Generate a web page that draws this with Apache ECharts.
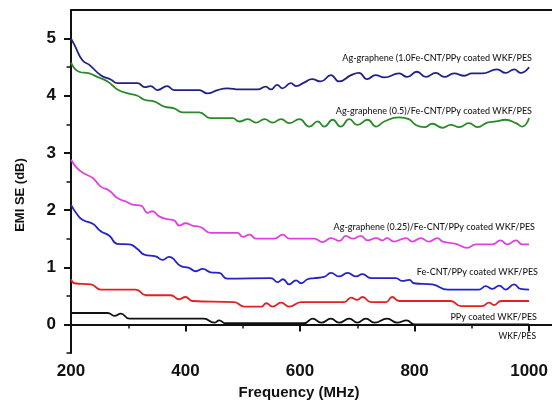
<!DOCTYPE html>
<html>
<head>
<meta charset="utf-8">
<script src="https://cdn.jsdelivr.net/npm/echarts@6/dist/echarts.min.js"></script>
<style>
html,body{margin:0;padding:0;background:#fff;}
#chart{width:552px;height:410px;}
</style>
</head>
<body>
<div id="chart"></div>
<script>
// ---- data (frequency in MHz, EMI SE in dB) ----
const xTickLabels = [200, 400, 600, 800, 1000];
const xMinorTicks = [300, 500, 700, 900];
const yTickLabels = [0, 1, 2, 3, 4, 5];
const yMinorTicks = [-0.5, 0.5, 1.5, 2.5, 3.5, 4.5];

const seriesNames = [
  'Ag-graphene (1.0Fe-CNT/PPy coated WKF/PES',
  'Ag-graphene (0.5)/Fe-CNT/PPy coated WKF/PES',
  'Ag-graphene (0.25)/Fe-CNT/PPy coated WKF/PES',
  'Fe-CNT/PPy coated WKF/PES',
  'PPy coated WKF/PES',
  'WKF/PES'
];

const ag10Freq = [200,206,220,232,252,270,281,316,329,339,351,368,380,424,438,456,473,494,526,540,549,560,569,584,593,607,621,636,654,668,689,703,717,732,747,773,787,804,820,837,852,869,887,900,918,944,959,974,985,1000];
const ag10SE   = [5.00,4.89,4.62,4.54,4.36,4.28,4.22,4.22,4.15,4.17,4.10,4.17,4.10,4.10,4.04,4.10,4.13,4.11,4.11,4.16,4.11,4.19,4.13,4.22,4.17,4.23,4.29,4.25,4.36,4.25,4.36,4.40,4.29,4.36,4.32,4.39,4.33,4.42,4.33,4.40,4.33,4.39,4.35,4.39,4.39,4.46,4.40,4.46,4.40,4.50];

const ag05Freq = [200,214,232,246,264,281,299,316,328,345,363,380,395,424,443,482,494,509,523,538,552,567,581,599,616,631,642,657,671,686,700,718,733,747,773,790,802,817,831,849,863,878,895,910,927,942,959,977,988,1000];
const ag05SE   = [4.58,4.42,4.39,4.33,4.25,4.11,4.04,4.00,3.93,3.90,3.81,3.78,3.71,3.71,3.61,3.61,3.55,3.59,3.53,3.59,3.53,3.59,3.52,3.59,3.46,3.55,3.46,3.58,3.46,3.59,3.49,3.58,3.46,3.55,3.62,3.59,3.49,3.45,3.51,3.44,3.49,3.45,3.52,3.45,3.53,3.55,3.58,3.52,3.46,3.61];

const ag025Freq = [200,211,223,238,252,267,281,296,310,322,334,342,354,368,380,389,400,412,427,444,491,500,512,523,555,570,581,625,639,654,669,680,692,706,718,733,744,752,764,785,796,811,825,840,849,872,892,907,936,950,962,977,988,1000];
const ag025SE   = [2.88,2.73,2.64,2.56,2.41,2.34,2.21,2.15,2.09,2.08,1.95,1.98,1.89,1.84,1.82,1.73,1.77,1.73,1.70,1.60,1.60,1.53,1.57,1.50,1.50,1.57,1.50,1.50,1.44,1.51,1.46,1.55,1.50,1.55,1.47,1.51,1.47,1.51,1.45,1.51,1.45,1.51,1.45,1.51,1.45,1.41,1.34,1.40,1.40,1.47,1.40,1.47,1.40,1.40];

const feFreq = [200,209,220,238,252,267,281,302,316,328,348,360,371,392,406,418,430,444,459,473,549,561,570,581,593,602,613,625,642,654,668,683,698,709,724,767,779,791,799,831,858,913,924,936,948,959,974,985,1000];
const feSE   = [2.09,1.95,1.83,1.76,1.63,1.55,1.41,1.40,1.32,1.22,1.19,1.13,1.18,1.02,0.99,0.93,0.97,0.91,0.90,0.80,0.81,0.74,0.79,0.70,0.77,0.72,0.79,0.81,0.83,0.90,0.84,0.90,0.84,0.88,0.81,0.81,0.76,0.78,0.72,0.70,0.61,0.61,0.67,0.62,0.68,0.61,0.70,0.62,0.61];

const ppyFreq = [200,206,235,252,313,331,374,389,400,412,485,503,532,541,552,567,581,602,677,689,700,709,724,750,761,773,863,881,918,930,939,951,1000];
const ppySE   = [0.79,0.72,0.70,0.61,0.61,0.51,0.51,0.44,0.48,0.41,0.39,0.31,0.31,0.37,0.31,0.38,0.31,0.39,0.39,0.47,0.43,0.48,0.39,0.39,0.48,0.41,0.41,0.32,0.32,0.38,0.34,0.41,0.41];

const wkfFreq = [200,264,276,287,302,432,450,459,470,607,622,637,654,668,686,700,715,730,752,770,786,800,1000];
const wkfSE   = [0.20,0.20,0.15,0.19,0.10,0.10,0.03,0.07,0.02,0.02,0.10,0.03,0.10,0.03,0.10,0.03,0.10,0.03,0.10,0.03,0.07,0.00,0.00];

const seriesFreq = [ag10Freq, ag05Freq, ag025Freq, feFreq, ppyFreq, wkfFreq];
const seriesSE = [ag10SE, ag05SE, ag025SE, feSE, ppySE, wkfSE];
const seriesColors = ['#222284', '#2a8a2a', '#e040e0', '#2323c8', '#e02222', '#111111'];

// annotation label placement (right edge x, centre y) in px
const labelPos = [[532, 58], [532, 111], [535, 227], [538, 272], [537, 317], [536, 336]];

const chart = echarts.init(document.getElementById('chart'), null, {renderer: 'canvas'});

const axisColor = '#111';
const series = seriesNames.map((name, i) => ({
  name: name,
  type: 'line',
  xAxisIndex: 0,
  yAxisIndex: 0,
  showSymbol: false,
  smooth: 0.5,
  lineStyle: {color: seriesColors[i], width: 1.8},
  itemStyle: {color: seriesColors[i]},
  data: seriesFreq[i].map((f, k) => [f, seriesSE[i][k]])
}));

const option = {
  backgroundColor: '#fff',
  animation: false,
  grid: {left: 71, top: 10, width: 482, height: 343, containLabel: false},
  xAxis: [
    {
      type: 'value', position: 'bottom', min: 200, max: 1040,
      axisLine: {show: true, lineStyle: {color: axisColor, width: 2}},
      axisTick: {show: true, inside: false, length: 7, lineStyle: {color: axisColor, width: 2}, customValues: xTickLabels},
      axisLabel: {show: true, margin: 10, color: '#111', fontWeight: 'bold', fontSize: 17, fontFamily: 'Liberation Sans, Arial, sans-serif', customValues: xTickLabels, formatter: v => String(v)},
      splitLine: {show: false}
    },
    {
      type: 'value', position: 'bottom', min: 200, max: 1040,
      axisLine: {show: false},
      axisTick: {show: true, inside: false, length: 4, lineStyle: {color: axisColor, width: 1.5}, customValues: xMinorTicks},
      axisLabel: {show: false},
      splitLine: {show: false}
    },
    {
      type: 'value', position: 'top', min: 200, max: 1040,
      axisLine: {show: true, lineStyle: {color: axisColor, width: 2}},
      axisTick: {show: false},
      axisLabel: {show: false},
      splitLine: {show: false}
    }
  ],
  yAxis: [
    {
      type: 'value', position: 'left', min: -0.5, max: 5.5,
      axisLine: {show: true, lineStyle: {color: axisColor, width: 2}},
      axisTick: {show: true, inside: false, length: 7, lineStyle: {color: axisColor, width: 2}, customValues: yTickLabels},
      axisLabel: {show: true, margin: 15, color: '#111', fontWeight: 'bold', fontSize: 17, fontFamily: 'Liberation Sans, Arial, sans-serif', customValues: yTickLabels, formatter: v => String(v)},
      splitLine: {show: false}
    },
    {
      type: 'value', position: 'left', min: -0.5, max: 5.5,
      axisLine: {show: false},
      axisTick: {show: true, inside: false, length: 4.5, lineStyle: {color: axisColor, width: 1.5}, customValues: yMinorTicks},
      axisLabel: {show: false},
      splitLine: {show: false}
    }
  ],
  graphic: [
    {
      type: 'text', x: 20, y: 195, rotation: Math.PI / 2,
      style: {text: 'EMI SE (dB)', fill: '#111', font: 'bold 13px "Liberation Sans", Arial, sans-serif', textAlign: 'center', textVerticalAlign: 'middle'}
    },
    {
      type: 'text', x: 299, y: 393,
      style: {text: 'Frequency (MHz)', fill: '#111', font: 'bold 15px "Liberation Sans", Arial, sans-serif', textAlign: 'center', textVerticalAlign: 'middle'}
    }
  ].concat(seriesNames.map((name, i) => ({
    type: 'text', x: labelPos[i][0], y: labelPos[i][1],
    style: {text: name, fill: '#1a1a1a', font: (i === 5 ? '500 8.5px' : '500 9px') + ' Lato, "Open Sans", sans-serif', textAlign: 'right', textVerticalAlign: 'middle'}
  }))),
  series: series
};

chart.setOption(option);
</script>
</body>
</html>
